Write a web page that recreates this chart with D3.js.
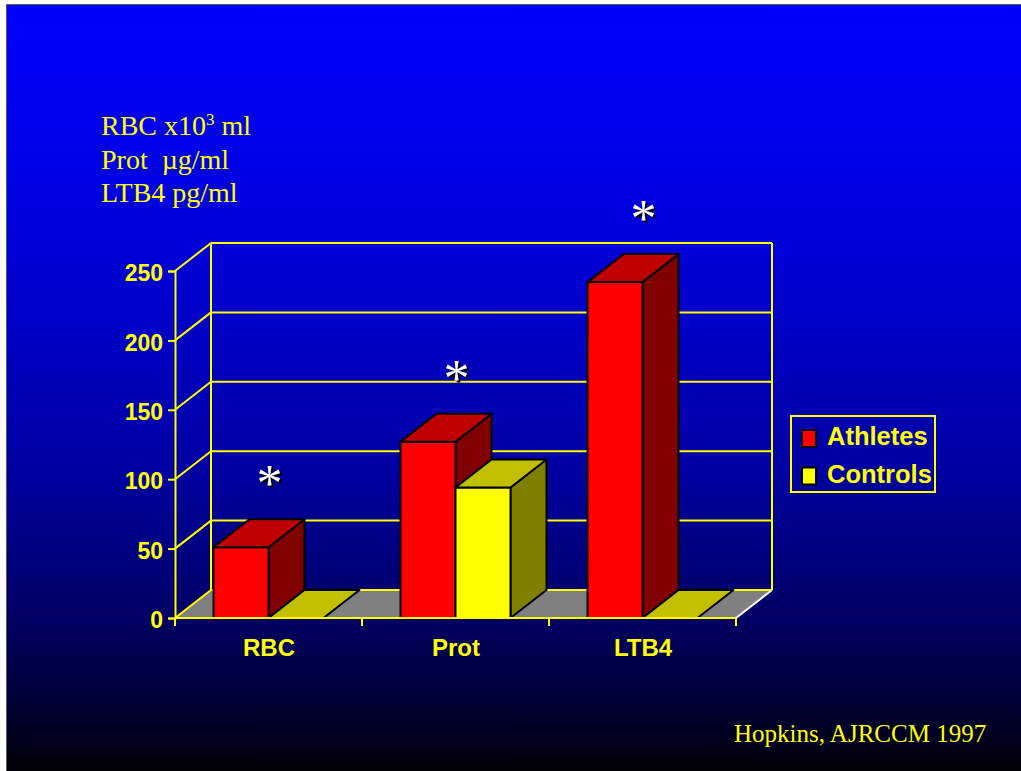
<!DOCTYPE html>
<html>
<head>
<meta charset="utf-8">
<script src="https://cdn.jsdelivr.net/npm/d3@7"></script>
<style>
  html, body { margin: 0; padding: 0; background: #fff; }
  svg { display: block; }
</style>
</head>
<body>
<div id="chart"></div>
<script>
const categories = ["RBC", "Prot", "LTB4"];
const seriesNames = ["Athletes", "Controls"];
const athletes = [51, 127, 242];
const controls = [0, 94, 0];
const yTicks = [0, 50, 100, 150, 200, 250];
const significant = ["RBC", "Prot", "LTB4"];
const unitLines = ["RBC x10|3| ml", "Prot  \u00b5g/ml", "LTB4 pg/ml"];
const sourceNote = "Hopkins, AJRCCM 1997";

const width = 1021, height = 771;
const depthX = 36, depthY = -28;
const yellow = "#FFFF00";
const faceColors = {
    Athletes: { front: "#FF0000", top: "#C00000", side: "#800000" },
    Controls: { front: "#FFFF00", top: "#C0C000", side: "#808000" }
};

const svg = d3.select("#chart").append("svg")
    .attr("width", width)
    .attr("height", height);

const grad = svg.append("defs").append("linearGradient")
    .attr("id", "bg")
    .attr("x1", 0).attr("y1", 0).attr("x2", 0).attr("y2", 1);
[[0, "#0000FF"], [0.3, "#0000DC"], [0.6, "#0000A4"], [0.8, "#000064"], [0.92, "#000030"], [1, "#000006"]]
    .forEach(([o, c]) => grad.append("stop").attr("offset", o).attr("stop-color", c));

// slide frame
svg.append("rect").attr("x", 6).attr("y", 4).attr("width", width - 6).attr("height", height - 4).attr("fill", "#5a5a5a");
svg.append("rect").attr("x", 7).attr("y", 5).attr("width", width - 7).attr("height", height - 5).attr("fill", "url(#bg)");

const x0 = d3.scaleBand().domain(categories).range([175, 736]);
const x1 = d3.scaleBand().domain(seriesNames).range([0, x0.bandwidth()]).paddingOuter(0.7);
const y = d3.scaleLinear().domain([0, 250]).range([618, 271]);

const rows = categories.map((c, i) => ({ category: c, Athletes: athletes[i], Controls: controls[i] }));

const plot = svg.append("g");
const [xl, xr] = x0.range();
const pt = (px, py) => `${px},${py}`;

// floor
plot.append("polygon")
    .attr("points", [pt(xl, y(0)), pt(xr, y(0)), pt(xr + depthX, y(0) + depthY), pt(xl + depthX, y(0) + depthY)].join(" "))
    .attr("fill", "#808080");

// back wall grid + depth lines
plot.append("g").selectAll("line")
    .data(yTicks)
    .join("line")
    .attr("x1", xl + depthX).attr("x2", xr + depthX)
    .attr("y1", d => y(d) + depthY).attr("y2", d => y(d) + depthY)
    .attr("stroke", yellow).attr("stroke-width", 2);

plot.append("g").selectAll("line")
    .data(yTicks)
    .join("line")
    .attr("x1", xl).attr("x2", xl + depthX)
    .attr("y1", d => y(d)).attr("y2", d => y(d) + depthY)
    .attr("stroke", yellow).attr("stroke-width", 2);

[xl + depthX, xr + depthX].forEach(vx => {
    plot.append("line")
        .attr("x1", vx).attr("x2", vx)
        .attr("y1", y(250) + depthY).attr("y2", y(0) + depthY)
        .attr("stroke", yellow).attr("stroke-width", 2);
});

// 3d bars
const bars = plot.append("g");
rows.forEach(row => {
    seriesNames.forEach(s => {
        const bx = x0(row.category) + x1(s);
        const bw = x1.bandwidth();
        const top = y(row[s]);
        const base = y(0);
        const col = faceColors[s];
        const g = bars.append("g")
            .attr("stroke", "#000").attr("stroke-width", 2).attr("stroke-linejoin", "round");
        if (base - top > 0.5) {
            g.append("polygon")
                .attr("points", [pt(bx + bw, base), pt(bx + bw + depthX, base + depthY), pt(bx + bw + depthX, top + depthY), pt(bx + bw, top)].join(" "))
                .attr("fill", col.side);
            g.append("rect")
                .attr("x", bx).attr("y", top).attr("width", bw).attr("height", base - top)
                .attr("fill", col.front);
        }
        g.append("polygon")
            .attr("points", [pt(bx, top), pt(bx + bw, top), pt(bx + bw + depthX, top + depthY), pt(bx + depthX, top + depthY)].join(" "))
            .attr("fill", col.top);
    });
});

// y axis
plot.append("g")
    .attr("transform", `translate(${xl},0)`)
    .call(d3.axisLeft(y).tickValues(yTicks).tickSize(7).tickPadding(5))
    .call(g => g.select(".domain").attr("stroke", yellow).attr("stroke-width", 2))
    .call(g => g.selectAll(".tick line").attr("stroke", yellow).attr("stroke-width", 2))
    .call(g => g.selectAll(".tick text")
        .attr("dy", "0.42em")
        .attr("fill", yellow)
        .style("font-family", "'Liberation Sans', Arial, sans-serif")
        .style("font-size", "23px")
        .style("font-weight", "bold"));

// x axis
plot.append("line")
    .attr("x1", xl).attr("x2", xr).attr("y1", y(0)).attr("y2", y(0))
    .attr("stroke", yellow).attr("stroke-width", 2);

plot.append("g").selectAll("line")
    .data(d3.range(categories.length + 1))
    .join("line")
    .attr("x1", i => xl + i * x0.step()).attr("x2", i => xl + i * x0.step())
    .attr("y1", y(0)).attr("y2", y(0) + 8)
    .attr("stroke", yellow).attr("stroke-width", 2);

plot.append("g")
    .attr("transform", `translate(0,${y(0)})`)
    .call(d3.axisBottom(x0).tickSize(0).tickPadding(0))
    .call(g => g.select(".domain").remove())
    .call(g => g.selectAll(".tick text")
        .attr("x", 0.5)
        .attr("y", 38).attr("dy", 0)
        .attr("fill", yellow)
        .style("font-family", "'Liberation Sans', Arial, sans-serif")
        .style("font-size", "24px")
        .style("font-weight", "bold"));

// white right floor edge
plot.append("line")
    .attr("x1", xr).attr("y1", y(0)).attr("x2", xr + depthX).attr("y2", y(0) + depthY)
    .attr("stroke", "#fff").attr("stroke-width", 2);

// significance asterisks, centred over each category
const star = svg.append("g")
    .style("font-family", "'Liberation Serif', 'Times New Roman', serif")
    .style("font-size", "52px")
    .attr("text-anchor", "middle");
significant.forEach(c => {
    const i = categories.indexOf(c);
    const sx = x0(c) + x0.bandwidth() / 2 + 1;
    const sy = y(athletes[i]) - 46;
    star.append("text").attr("x", sx + 2).attr("y", sy + 2).attr("fill", "#000").text("*");
    star.append("text").attr("x", sx).attr("y", sy).attr("fill", "#fff").text("*");
});

// unit labels
const units = svg.append("g")
    .attr("fill", yellow)
    .style("font-family", "'Liberation Serif', 'Times New Roman', serif")
    .style("font-size", "28px");
unitLines.forEach((line, i) => {
    const t = units.append("text").attr("x", 101).attr("y", 135 + i * 33.5).attr("xml:space", "preserve");
    line.split("|").forEach((part, j) => {
        if (j === 1) {
            t.append("tspan").attr("dy", -10).style("font-size", "17px").text(part);
        } else if (j === 2) {
            t.append("tspan").attr("dy", 10).text(part);
        } else {
            t.append("tspan").text(part);
        }
    });
});

// legend
const legend = svg.append("g");
legend.append("rect")
    .attr("x", 791).attr("y", 416).attr("width", 144).attr("height", 76)
    .attr("fill", "none").attr("stroke", yellow).attr("stroke-width", 2);
const items = legend.selectAll("g")
    .data(seriesNames)
    .join("g")
    .attr("transform", (d, i) => `translate(802, ${430 + i * 37.5})`);
items.append("rect")
    .attr("width", 14).attr("height", 17)
    .attr("fill", d => faceColors[d].front)
    .attr("stroke", "#000").attr("stroke-width", 2);
items.append("text")
    .attr("x", 25).attr("y", 15)
    .attr("fill", yellow)
    .style("font-family", "'Liberation Sans', Arial, sans-serif")
    .style("font-size", "25.5px")
    .style("font-weight", "bold")
    .text(d => d);

svg.append("text")
    .attr("x", 734).attr("y", 742)
    .attr("fill", yellow)
    .style("font-family", "'Liberation Serif', 'Times New Roman', serif")
    .style("font-size", "25px")
    .text(sourceNote);
</script>
</body>
</html>
